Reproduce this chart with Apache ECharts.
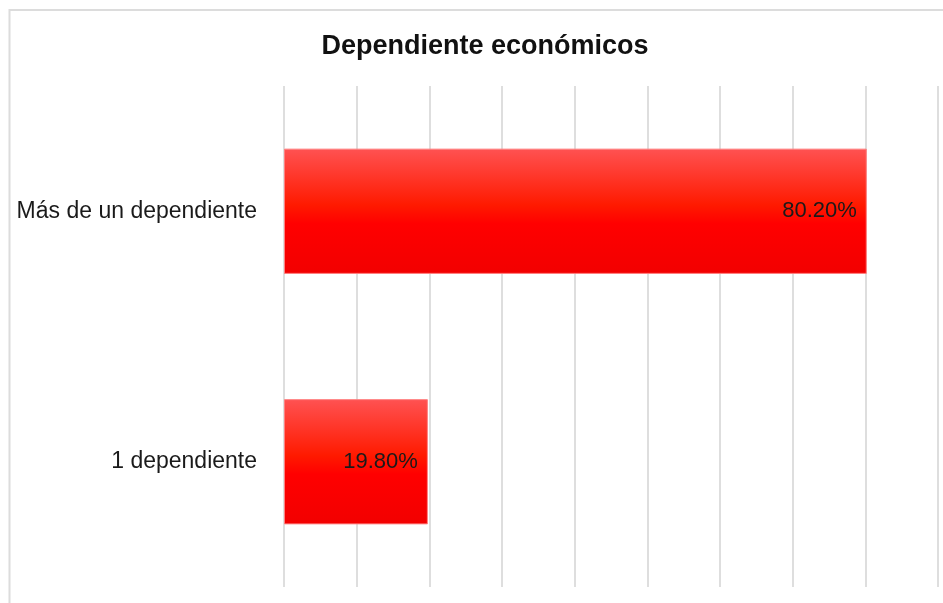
<!DOCTYPE html>
<html>
<head>
<meta charset="utf-8">
<script src="https://cdn.jsdelivr.net/npm/echarts@6/dist/echarts.min.js"></script>
<style>html,body{margin:0;padding:0;background:#fff;}#c{width:943px;height:603px;}</style>
</head>
<body>
<div id="c"></div>
<script>
const categories = ['1 dependiente', 'Más de un dependiente'];
const values = [19.8, 80.2];
const titleText = 'Dependiente económicos';

const chart = echarts.init(document.getElementById('c'));
chart.setOption({
  backgroundColor: '#fff',
  animation: false,
  title: {
    text: titleText,
    left: 480, top: 28, textAlign: 'center',
    textStyle: { fontFamily: 'Liberation Sans', fontWeight: 'bold', fontSize: 27, color: '#111' }
  },
  graphic: [{
    type: 'rect', shape: { x: 9.5, y: 10, width: 960, height: 620 },
    style: { fill: 'none', stroke: '#dcdcdc', lineWidth: 2 }, silent: true, z: -1
  }],
  grid: { left: 284, right: 5, top: 86, bottom: 16, containLabel: false },
  xAxis: {
    type: 'value', min: 0, max: 90, interval: 10,
    axisLabel: { show: false }, axisLine: { show: false }, axisTick: { show: false },
    splitLine: { show: true, lineStyle: { color: '#dedede', width: 2 } }
  },
  yAxis: {
    type: 'category', data: categories,
    axisLine: { show: false }, axisTick: { show: false },
    axisLabel: { margin: 27, fontFamily: 'Liberation Sans', fontSize: 23, color: '#1a1a1a' }
  },
  series: [{
    type: 'bar', data: values, barWidth: '50%',
    itemStyle: {
      color: new echarts.graphic.LinearGradient(0, 0, 0, 1, [
        { offset: 0, color: '#ff5252' },
        { offset: 0.45, color: '#ff1a00' },
        { offset: 0.6, color: '#ff0000' },
        { offset: 1, color: '#f20000' }
      ]),
      borderColor: '#ff8080', borderWidth: 1
    },
    label: {
      show: true, position: 'insideRight', distance: 10,
      formatter: p => p.value.toFixed(2) + '%',
      fontFamily: 'Liberation Sans', fontSize: 22, color: '#1a1a1a'
    }
  }]
});
</script>
</body>
</html>
